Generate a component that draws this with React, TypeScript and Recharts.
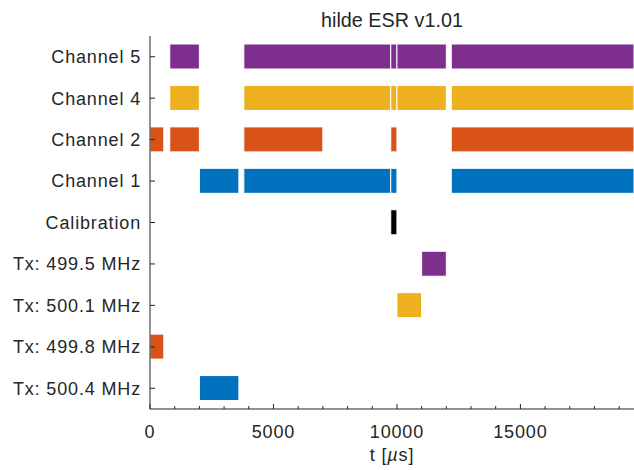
import React from 'react';
import { BarChart, Bar, XAxis, YAxis, Cell } from 'recharts';

const rowNames = [
  'Channel 5',
  'Channel 4',
  'Channel 2',
  'Channel 1',
  'Calibration',
  'Tx: 499.5 MHz',
  'Tx: 500.1 MHz',
  'Tx: 499.8 MHz',
  'Tx: 500.4 MHz',
];

const BLUE = '#0072BD';
const ORANGE = '#D95319';
const YELLOW = '#EDB120';
const PURPLE = '#7E2F8E';
const BLACK = '#000000';

const rowColors = [PURPLE, YELLOW, ORANGE, BLUE, BLACK, PURPLE, YELLOW, ORANGE, BLUE];

const T_VIEW = 19600;
const T_END = 20000;

const channel5 = [[800, 2000], [3800, 9750], [9750, 10000], [10000, 12000], [12200, T_END]];
const channel4 = [[800, 2000], [3800, 9750], [9750, 10000], [10000, 12000], [12200, T_END]];
const channel2 = [[0, 560], [800, 2000], [3800, 7000], [9750, 10000], [12200, T_END]];
const channel1 = [[2000, 3600], [3800, 9750], [9750, 10000], [12200, T_END]];
const calibration = [[9750, 10000]];
const tx4995 = [[11000, 12000]];
const tx5001 = [[10000, 11000]];
const tx4998 = [[0, 560]];
const tx5004 = [[2000, 3600]];

const rowSegments = [channel5, channel4, channel2, channel1, calibration, tx4995, tx5001, tx4998, tx5004];

const xTicks = [0, 1000, 2000, 3000, 4000, 5000, 6000, 7000, 8000, 9000, 10000, 11000, 12000, 13000, 14000, 15000, 16000, 17000, 18000, 19000];

const MAX_PIECES = 9;

const tableRows = rowNames.map((name, i) => {
  const row: any = { name, fills: [] as (string | null)[] };
  let cursor = 0;
  let k = 0;
  rowSegments[i].forEach(([s, e]) => {
    if (s > cursor) {
      row['p' + k] = s - cursor;
      row.fills[k] = null;
      k++;
    }
    row['p' + k] = e - s;
    row.fills[k] = rowColors[i];
    k++;
    cursor = e;
  });
  for (let j = k; j < MAX_PIECES; j++) {
    row['p' + j] = 0;
    row.fills[j] = null;
  }
  return row;
});

const FONT = '"Liberation Sans", Arial, Helvetica, sans-serif';
const AXIS = '#262626';
const textStyle: any = { fontFamily: FONT, fontSize: 18, letterSpacing: 0.85, fill: AXIS };

const BottomTick = (props: any) => {
  const { x, y, payload } = props;
  const major = payload.value % 5000 === 0;
  return (
    <g>
      <line x1={x} x2={x} y1={y} y2={y - (major ? 5 : 3)} stroke={AXIS} strokeWidth={1} />
      {major && (
        <text x={x} y={y + 29} textAnchor="middle" style={textStyle}>
          {payload.value}
        </text>
      )}
    </g>
  );
};

const TopTick = (props: any) => {
  const { x, y, payload } = props;
  const major = payload.value % 5000 === 0;
  return <line x1={x} x2={x} y1={y} y2={y + (major ? 5 : 3)} stroke={AXIS} strokeWidth={1} />;
};

const LeftTick = (props: any) => {
  const { x, y, payload } = props;
  return (
    <g>
      <line x1={x} x2={x + 5} y1={y} y2={y} stroke={AXIS} strokeWidth={1} />
      <text x={x - 9} y={y + 6.4} textAnchor="end" style={textStyle}>
        {payload.value}
      </text>
    </g>
  );
};

const XLabel = (props: any) => {
  const vb = props.viewBox || {};
  const cx = vb.x + vb.width / 2;
  return (
    <text x={cx} y={vb.y + 52} textAnchor="middle" style={textStyle}>
      t [<tspan fontStyle="italic">µ</tspan>s]
    </text>
  );
};

export default function App() {
  const pieceIdx = Array.from({ length: MAX_PIECES }, (_, k) => k);
  return (
    <div style={{ position: 'absolute', left: 0, top: 0, width: 634, height: 470, background: '#fff' }}>
      <div
        style={{
          position: 'absolute',
          left: 150,
          width: 484,
          top: 9.8,
          lineHeight: '20px',
          textAlign: 'center',
          fontFamily: FONT,
          fontSize: 19.8,
          color: AXIS,
        }}
      >
        hilde ESR v1.01
      </div>
      <BarChart
        width={634}
        height={470}
        data={tableRows}
        layout="vertical"
        margin={{ top: 36, right: 0, bottom: 0, left: 0 }}
        barSize={25}
      >
        <XAxis
          type="number"
          domain={[0, T_VIEW]}
          ticks={xTicks}
          interval={0}
          height={61}
          tickSize={0}
          tickMargin={0}
          tickLine={false}
          axisLine={{ stroke: AXIS, strokeWidth: 1 }}
          tick={BottomTick}
          allowDataOverflow
          label={{ content: XLabel }}
        />
        <XAxis
          xAxisId="top"
          orientation="top"
          type="number"
          domain={[0, T_VIEW]}
          ticks={xTicks}
          interval={0}
          height={0}
          tickSize={0}
          tickMargin={0}
          tickLine={false}
          axisLine={{ stroke: AXIS, strokeWidth: 1 }}
          tick={TopTick}
          allowDataOverflow
        />
        <YAxis
          type="category"
          dataKey="name"
          width={150}
          interval={0}
          tickSize={0}
          tickMargin={0}
          tickLine={false}
          axisLine={{ stroke: AXIS, strokeWidth: 1 }}
          tick={LeftTick}
        />
        {pieceIdx.map((k) => (
          <Bar key={k} dataKey={'p' + k} stackId="s" isAnimationActive={false}>
            {tableRows.map((row: any, i: number) => (
              <Cell
                key={i}
                fill={row.fills[k] || 'none'}
                stroke={row.fills[k] ? '#ffffff' : 'none'}
                strokeWidth={1}
              />
            ))}
          </Bar>
        ))}
      </BarChart>
    </div>
  );
}
